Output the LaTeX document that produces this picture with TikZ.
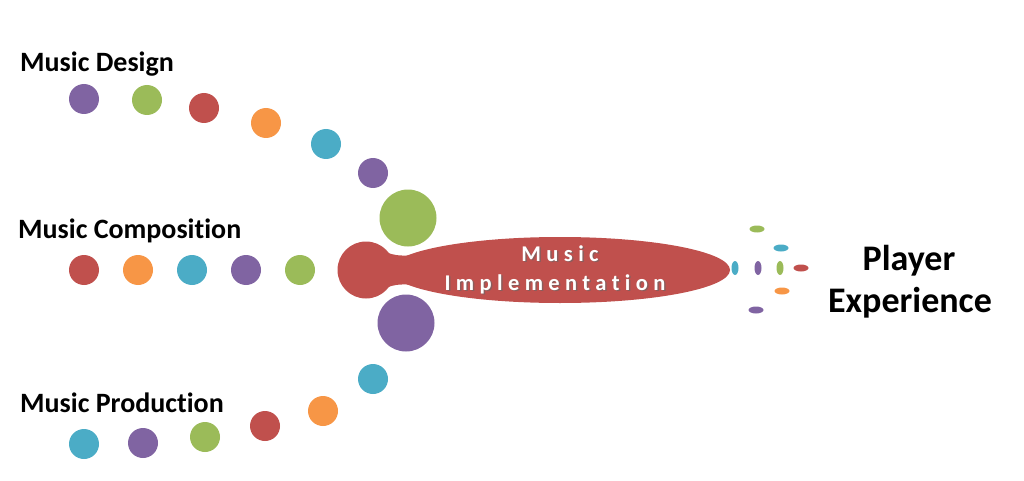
\documentclass[tikz,border=0pt]{standalone}
\usepackage{fontspec}
\setmainfont{Carlito}
\usetikzlibrary{shapes.geometric}
\definecolor{cpurple}{HTML}{8064A2}
\definecolor{cgreen}{HTML}{9BBB59}
\definecolor{cred}{HTML}{C0504D}
\definecolor{corange}{HTML}{F79646}
\definecolor{cblue}{HTML}{4BACC6}
\tikzset{
  dot/.style={circle,fill=#1,draw=none,minimum size=30pt,inner sep=0pt},
  bigdot/.style={circle,fill=#1,draw=none,minimum size=57pt,inner sep=0pt},
  hdrop/.style={ellipse,fill=#1,draw=none,minimum width=15pt,minimum height=7pt,inner sep=0pt},
  vdrop/.style={ellipse,fill=#1,draw=none,minimum width=7pt,minimum height=14pt,inner sep=0pt},
  lbl/.style={font=\bfseries\fontsize{28}{32}\selectfont\addfontfeature{Ligatures=NoCommon},anchor=base west,inner sep=0pt},
  impl/.style={font=\bfseries\fontsize{22.5}{26}\selectfont\addfontfeature{LetterSpace=24,Ligatures=NoCommon},inner sep=0pt,anchor=base},
  pexp/.style={font=\bfseries\fontsize{36}{40}\selectfont,inner sep=0pt,anchor=base},
}
\begin{document}
\begin{tikzpicture}[x=1pt,y=-1pt]
\useasboundingbox (0,0) rectangle (1024,481);
% labels
\node[lbl] (ld) at (20,72) {Music Design};
\node[lbl] (lc) at (18,238) {Music Composition};
\node[lbl] (lp) at (20,412) {Music Production};
% top row
\node[dot=cpurple] (t1) at (84,99) {};
\node[dot=cgreen] (t2) at (147,100) {};
\node[dot=cred] (t3) at (204,108) {};
\node[dot=corange] (t4) at (266,123) {};
\node[dot=cblue] (t5) at (326,144) {};
\node[dot=cpurple] (t6) at (373,173) {};
% middle row
\node[dot=cred] (m1) at (84,270) {};
\node[dot=corange] (m2) at (138,270) {};
\node[dot=cblue] (m3) at (192,270) {};
\node[dot=cpurple] (m4) at (246,270) {};
\node[dot=cgreen] (m5) at (300,270) {};
% bottom row
\node[dot=cblue] (b1) at (84,444) {};
\node[dot=cpurple] (b2) at (143,443) {};
\node[dot=cgreen] (b3) at (205,437) {};
\node[dot=cred] (b4) at (265,426) {};
\node[dot=corange] (b5) at (323,411) {};
\node[dot=cblue] (b6) at (373,379) {};
% big circles
\node[bigdot=cgreen] (bg) at (408,218) {};
\node[bigdot=cpurple] (bp) at (406,323) {};
% implementation ellipse
\node[ellipse,fill=cred,draw=none,minimum width=340pt,minimum height=66pt,inner sep=0pt] (im) at (560,270) {};
\node[bigdot=cred] (br) at (366,270) {};
\fill[cred] (380,248) .. controls (390,256) and (400,257) .. (425,254) -- (425,286) .. controls (400,283) and (390,284) .. (380,292) -- cycle;
\node[impl,text=black!60,opacity=0.6] (imt1s) at (561.5,262.5) {Music};
\node[impl,text=black!60,opacity=0.6] (imt2s) at (556.5,291.5) {Implementation};
\node[impl,text=white] (imt1) at (560,261) {Music};
\node[impl,text=white] (imt2) at (555,290) {Implementation};
% drops
\node[hdrop=cgreen] (d1) at (757,229) {};
\node[hdrop=cblue] (d2) at (781,248) {};
\node[vdrop=cblue] (d3) at (735,268) {};
\node[vdrop=cpurple] (d4) at (758,268) {};
\node[vdrop=cgreen] (d5) at (780,268) {};
\node[hdrop=cred] (d6) at (801,268) {};
\node[hdrop=corange] (d7) at (782,291) {};
\node[hdrop=cpurple] (d8) at (756,310) {};
% player experience
\node[pexp] (pe1) at (909,270) {Player};
\node[pexp] (pe2) at (910,312) {Experience};
\end{tikzpicture}
\end{document}
